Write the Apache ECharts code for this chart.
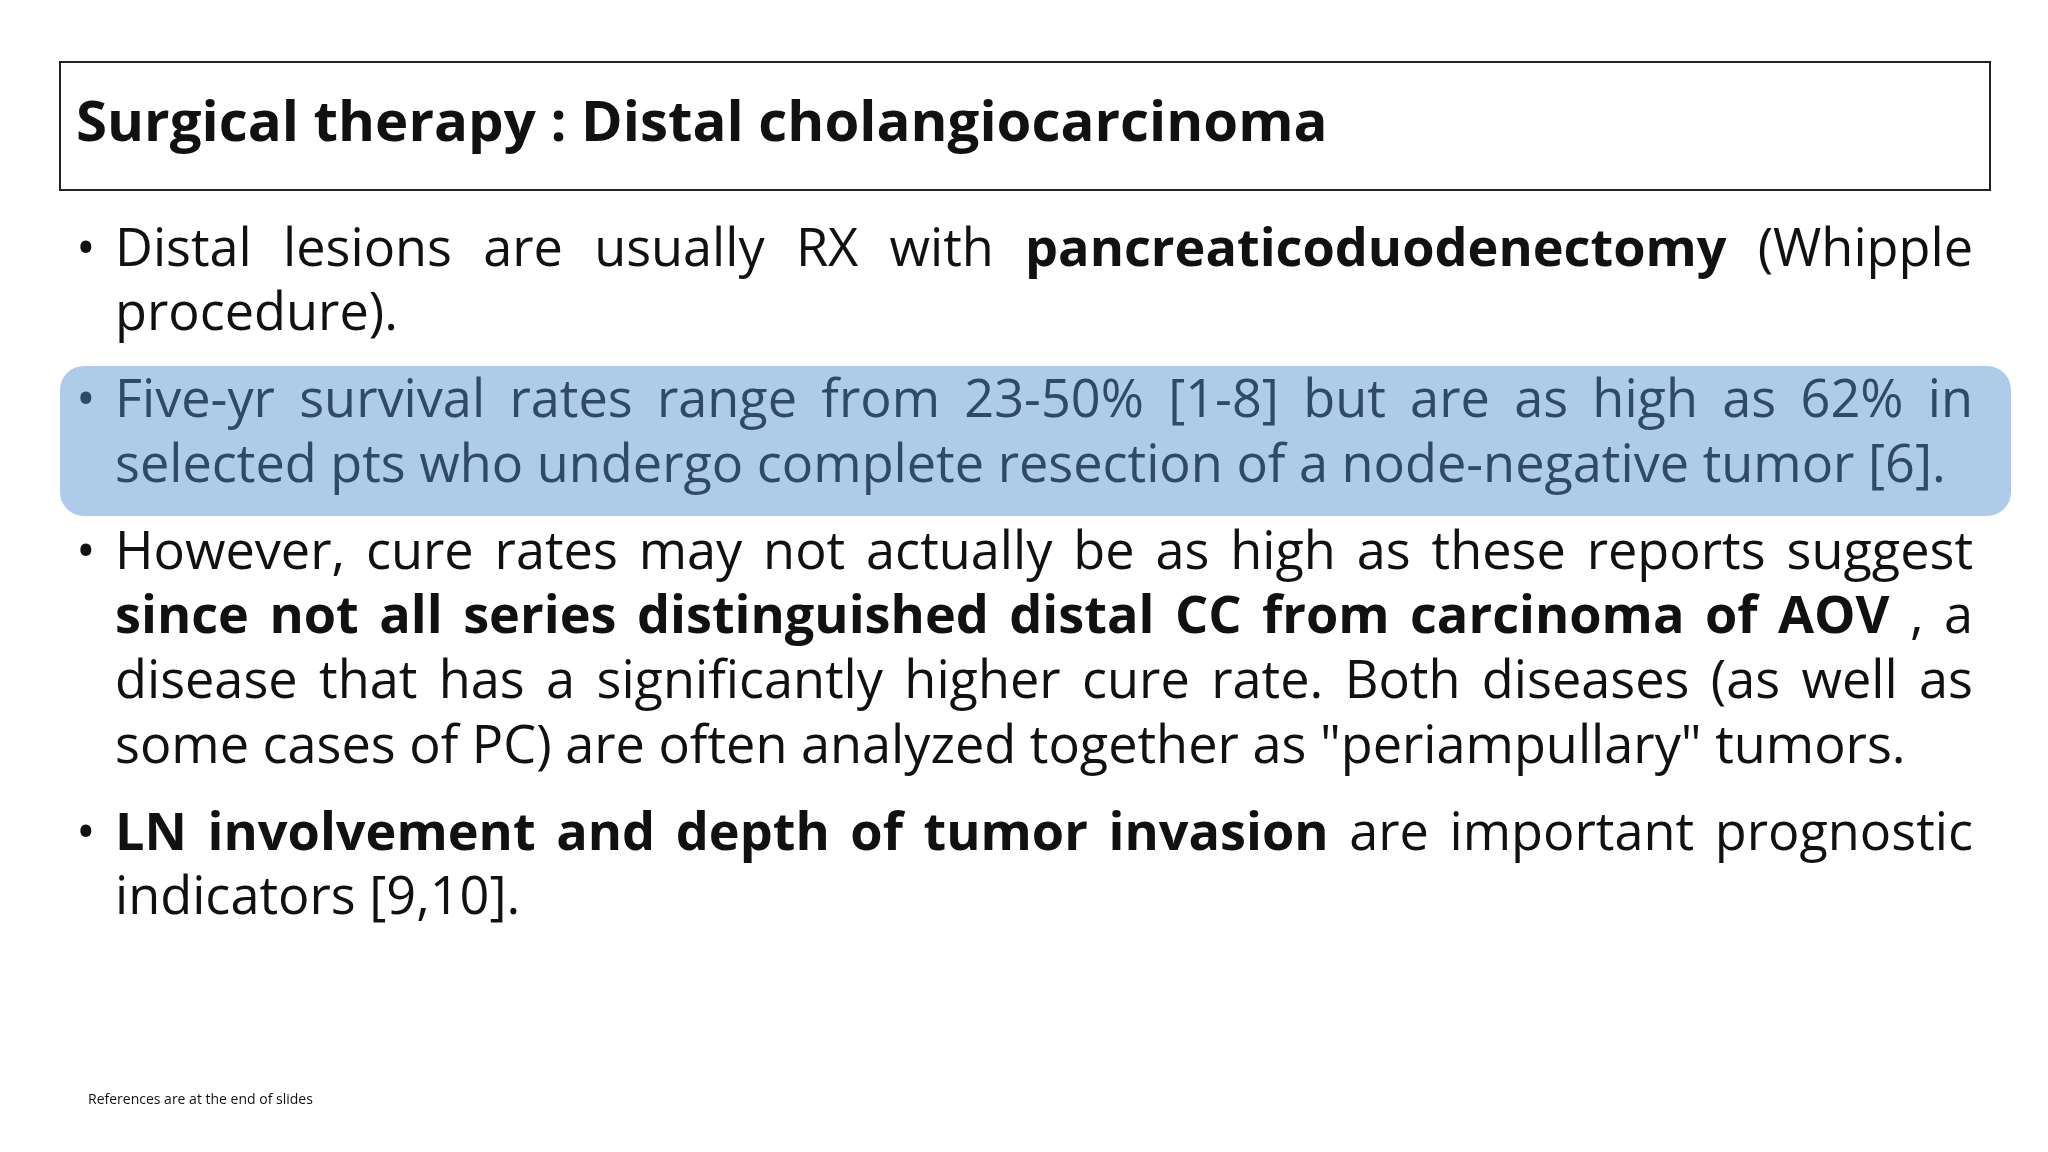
<!DOCTYPE html>
<html>
<head>
<meta charset="utf-8">
<script src="https://cdn.jsdelivr.net/npm/echarts@6/dist/echarts.min.js"></script>
<style>html,body{margin:0;padding:0;background:#fff}#main{width:2048px;height:1152px}</style>
</head>
<body>
<div id="main"></div>
<script>
var titleText = 'Surgical therapy : Distal cholangiocarcinoma';
var footerText = 'References are at the end of slides';
// each line: [segments], justify flag, bullet flag; segment '*' prefix = bold
var lines = [
  [['Distal lesions are usually RX with ', '*pancreaticoduodenectomy', ' (Whipple'], true, true],
  [['procedure).'], false, false],
  [['Five-yr survival rates range from 23-50% [1-8] but are as high as 62% in'], true, true],
  [['selected pts who undergo complete resection of a node-negative tumor [6].'], false, false],
  [['However, cure rates may not actually be as high as these reports suggest'], true, true],
  [['*since not all series distinguished distal CC from carcinoma of AOV', ', a'], true, false],
  [['disease that has a significantly higher cure rate. Both diseases (as well as'], true, false],
  [['some cases of PC) are often analyzed together as "periampullary" tumors.'], false, false],
  [['*LN involvement and depth of tumor invasion', ' are important prognostic'], true, true],
  [['indicators [9,10].'], false, false]
];
var lineY = [251, 315, 402, 467, 554, 618, 683, 748, 835, 899];
var highlighted = [2, 3];

var FAMILY = '"Open Sans", "Noto Sans", sans-serif';
var canvas = document.createElement('canvas');
var ctx = canvas.getContext('2d');
function w(text, size, bold) {
  ctx.font = (bold ? 'bold ' : '') + size + 'px ' + FAMILY;
  return ctx.measureText(text).width;
}
// fit body size to the unjustified line width seen in the slide
var size = 40 * 1791 / w(lines[7][0][0], 40, false);
var titleSize = 40 * 1252 / w(titleText, 40, true);

var left = 115, right = 1973;
var els = [];
els.push({type: 'rect', shape: {x: 60, y: 62, width: 1930, height: 128},
  style: {fill: '#fff', stroke: '#222', lineWidth: 2}});
els.push({type: 'text', x: 76, y: 125, style: {text: titleText, font: 'bold ' + titleSize + 'px ' + FAMILY,
  fill: '#111', verticalAlign: 'middle'}});
els.push({type: 'rect', shape: {x: 60, y: 366, width: 1951, height: 150, r: 24},
  style: {fill: '#aecbea'}});

lines.forEach(function (ln, i) {
  var color = highlighted.indexOf(i) >= 0 ? '#2f4a66' : '#111';
  var words = [];
  ln[0].forEach(function (seg) {
    var bold = seg.charAt(0) === '*';
    var t = bold ? seg.slice(1) : seg;
    t.split(' ').forEach(function (p, k) {
      if (p === '') return;
      words.push({t: p, bold: bold});
    });
  });
  var sp = w(' ', size, false);
  var total = 0;
  words.forEach(function (o) { o.w = w(o.t, size, o.bold); total += o.w; });
  var gap = ln[1] && words.length > 1 ? (right - left - total) / (words.length - 1) : sp;
  var x = left;
  words.forEach(function (o) {
    els.push({type: 'text', x: x, y: lineY[i], style: {text: o.t,
      font: (o.bold ? 'bold ' : '') + size + 'px ' + FAMILY, fill: color, verticalAlign: 'middle'}});
    x += o.w + gap;
  });
  if (ln[2]) {
    els.push({type: 'text', x: 76, y: lineY[i], style: {text: '•', font: size + 'px ' + FAMILY,
      fill: color, verticalAlign: 'middle'}});
  }
});
els.push({type: 'text', x: 88, y: 1100, style: {text: footerText, font: '14px ' + FAMILY,
  fill: '#111', verticalAlign: 'middle'}});

var myChart = echarts.init(document.getElementById('main'));
myChart.setOption({backgroundColor: '#fff', graphic: {elements: els}});
</script>
</body>
</html>
